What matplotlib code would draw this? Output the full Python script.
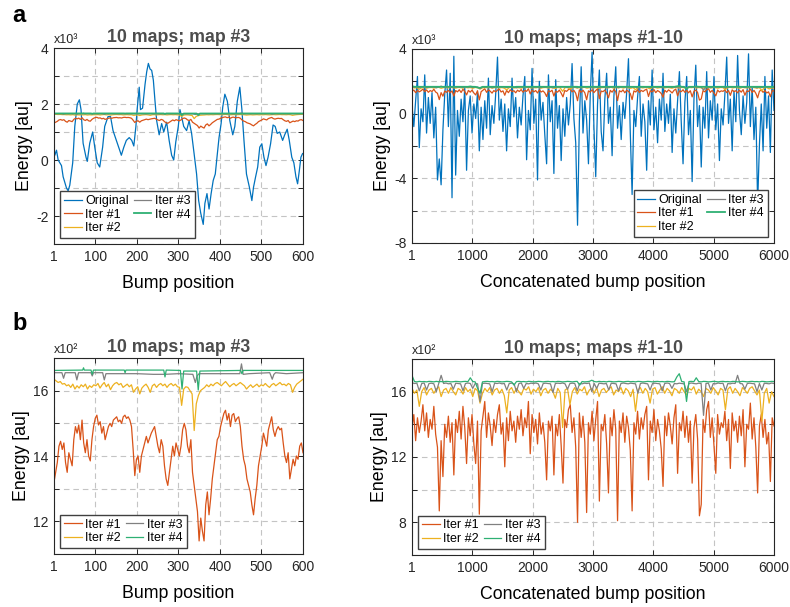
import numpy as np
import matplotlib.pyplot as plt

plt.rcParams['font.family'] = ['Liberation Sans', 'DejaVu Sans']

# ---- colours (MATLAB-like) ----
C_ORIG = "#0072BD"
C_IT1 = "#D95319"
C_IT2 = "#EDB120"
C_IT3 = "#808080"
C_IT4 = "#2EB073"

# ---- map #3 (600 bump positions) ----
# Original energy, x10^3
orig_left_x = [1, 3, 7, 11, 19, 23, 31, 35, 39, 46,
               51, 57, 62, 66, 71, 78, 81, 87, 94, 99,
               105, 111, 118, 123, 131, 137, 143, 151, 159, 163,
               169, 175, 182, 188, 193, 198, 201, 206, 209, 214,
               220, 224, 228, 232, 236, 240, 244, 248, 254, 260,
               265, 272, 278, 284, 289, 294, 300, 304, 308, 313,
               320, 326, 332, 338, 344, 349, 354, 360, 364, 369,
               374, 379, 384, 389, 394, 398, 403, 407, 412, 418,
               424, 431, 436, 442, 448, 453, 458, 464, 471, 477,
               481, 486, 491, 496, 501, 506, 511, 516, 522, 528,
               533, 538, 544, 551, 556, 562, 567, 573, 578, 583,
               587, 591, 595, 599]
orig_left = [0.46, 0.17, 0.35, 0.0, -0.2, -0.6, -1.0, -1.1, -0.9, -0.1,
             1.2, 2.0, 2.15, 1.8, 0.6, 0.1, -0.05, 0.6, 1.0, 0.46,
             -0.1, -0.25, 0.46, 1.2, 1.55, 1.55, 1.05, 0.7, 0.35, 0.17,
             0.46, 0.7, 0.8, 0.7, 0.5, 1.2, 1.8, 2.6, 1.8, 1.85,
             2.7, 3.15, 3.45, 3.25, 3.2, 2.85, 2.1, 1.4, 0.9, 1.3,
             1.0, 1.35, 0.7, 0.17, 0.0, 0.65, 1.2, 1.8, 1.55, 1.2,
             1.05, 1.4, 0.95, 0.23, -0.5, -1.45, -1.9, -2.3, -1.55, -1.2,
             -1.75, -1.2, -0.73, -0.5, 0.23, 0.8, 1.3, 1.9, 2.35, 2.1,
             1.4, 0.9, 1.2, 2.1, 2.6, 1.8, 0.7, -0.5, -0.97, -1.45,
             -0.97, -0.6, -0.25, 0.46, 0.58, 0.1, -0.2, 0.1, 0.58, 1.25,
             1.2, 0.95, 1.0, 0.7, 0.9, 1.1, 0.7, 0.1, -0.1, -0.6,
             -0.85, -0.4, 0.1, 0.23]

# Iterations, x10^2
iter1_left = [13.2, 13.5, 13.8, 14.3, 14.45, 14.2, 14.4, 13.8, 13.5, 14.1,
              13.9, 13.7, 14.5, 14.9, 14.7, 14.95, 14.5, 15.1, 14.4, 14.1,
              14.5, 14.0, 13.85, 14.5, 14.9, 15.15, 15.25, 14.95, 15.05, 14.7,
              14.9, 14.5, 14.7, 14.9, 15.0, 14.9, 15.1, 15.15, 15.2, 15.05,
              15.1, 15.0, 15.2, 15.25, 15.15, 15.2, 15.1, 14.9, 14.2, 13.4,
              13.9, 14.0, 13.5, 14.0, 14.2, 14.4, 14.6, 14.4, 14.55, 14.7,
              14.8, 14.9, 14.6, 14.3, 14.1, 14.5, 14.3, 13.7, 13.3, 13.1,
              13.5, 13.9, 14.3, 14.0, 14.4, 14.2, 14.0, 14.3, 14.8, 15.0,
              14.8, 14.3, 14.1, 14.5, 13.5, 13.1, 12.7, 12.3, 11.4, 12.1,
              11.7, 11.4, 12.5, 12.9, 12.2, 12.7, 13.3, 13.7, 14.1, 14.5,
              14.6, 14.9, 15.1, 15.3, 15.4, 15.1, 15.3, 14.9, 15.25, 15.3,
              15.05, 15.15, 15.2, 14.9, 14.3, 13.9, 13.7, 13.3, 13.1, 12.9,
              12.5, 12.2, 12.7, 13.1, 13.7, 14.0, 14.3, 14.7, 14.5, 14.3,
              14.8, 15.0, 15.2, 14.8, 14.6, 14.8, 14.9, 14.8, 14.85, 14.4,
              14.0, 13.8, 14.1, 13.3, 13.6, 13.9, 13.7, 14.0, 13.9, 14.3,
              14.4, 14.1]
iter2_left = [16.35, 16.30, 16.25, 16.28, 16.20, 16.22, 16.15, 16.18, 16.10, 16.20,
              16.05, 16.15, 16.08, 16.18, 16.12, 16.20, 16.05, 16.15, 16.10, 16.18,
              16.15, 16.22, 16.08, 16.18, 16.25, 16.12, 16.20, 16.03, 16.15, 16.22,
              16.25, 16.18, 16.22, 16.10, 16.15, 16.20, 16.12, 16.18, 15.95, 16.05,
              16.12, 15.90, 16.08, 16.15, 16.20, 16.10, 15.95, 16.15, 16.20, 16.10,
              16.18, 16.22, 16.15, 16.20, 16.10, 16.18, 16.22, 16.15, 16.20, 16.12,
              16.10, 15.55, 16.05, 16.12, 16.10, 16.00, 15.90, 14.78, 15.60, 15.85,
              16.00, 16.05, 16.10, 16.18, 16.12, 16.20, 16.15, 16.22, 16.25, 16.20,
              16.15, 16.22, 16.28, 16.20, 16.12, 16.18, 16.22, 16.15, 16.20, 16.25,
              16.20, 16.15, 16.05, 16.12, 16.18, 16.10, 16.15, 16.20, 16.12, 16.18,
              16.15, 16.22, 16.15, 16.10, 16.18, 16.22, 16.15, 16.20, 16.25, 16.18,
              16.20, 16.15, 16.22, 16.18, 15.95, 16.10, 16.20, 16.25, 16.30, 16.35]
iter3_left_x = [1, 20, 24, 28, 52, 56, 60, 90, 93, 96, 118, 122, 126, 200, 240, 268,
                300, 335, 341, 345, 350, 400, 448, 452, 456, 470, 520, 526, 530, 534,
                560, 600]
iter3_left = [16.55, 16.55, 16.38, 16.55, 16.55, 16.33, 16.55, 16.55, 16.45, 16.55,
              16.55, 16.33, 16.52, 16.52, 16.50, 16.50, 16.52, 16.50, 16.25, 16.45,
              16.52, 16.52, 16.52, 16.82, 16.50, 16.52, 16.55, 16.35, 16.50, 16.55,
              16.52, 16.55]
iter4_left_x = [1, 70, 72, 74, 90, 93, 96, 170, 172, 174, 265, 268, 271, 305, 309, 313,
                344, 348, 352, 450, 453, 456, 600]
iter4_left = [16.62, 16.63, 16.70, 16.63, 16.63, 16.50, 16.63, 16.63, 16.55, 16.63,
              16.63, 16.42, 16.63, 16.62, 16.05, 16.60, 16.60, 16.02, 16.60, 16.62,
              16.52, 16.62, 16.62]

# ---- maps #1-10 (6000 concatenated positions) ----
orig_right = [0.5, -0.8, 0.8, 2.3, -2.1, 0.3, -0.5, 2.4, -1.2, 1.0,
              -0.6, 1.3, -1.5, 0.4, -4.1, -2.8, -4.4, -1.0, 1.2, 2.7,
              -0.8, 2.5, -5.2, 3.55, -3.8, 0.2, -1.4, 0.9, -0.5, 1.65,
              -3.5, 0.2, 1.1, -1.2, 0.6, -0.3, 1.3, -2.3, 0.4, -1.6,
              0.8, -0.9, 2.2, -1.3, 0.5, -0.6, 1.2, 3.5, -0.4, 0.9,
              -1.1, 0.6, -2.3, 0.3, -0.8, 2.2, -0.2, 1.0, -1.5, 0.4,
              -0.7, 1.1, 2.3, -2.85, 0.2, -1.0, 2.8, -0.6, 0.9, -4.1,
              2.0, -0.4, 0.7, -1.3, -3.1, 2.4, -0.5, 0.8, -3.7, 2.1,
              -0.9, 0.5, -2.9, 0.3, -1.4, 1.0, -0.7, 0.6, 3.1, -0.3,
              -1.8, -6.9, -0.5, 2.9, -1.2, 0.8, -0.4, -3.1, 1.2, 3.8,
              -0.8, -3.9, 0.6, 2.7, -1.1, -2.3, 0.9, 2.5, -0.6, 0.4,
              -2.6, 1.1, 2.9, -0.9, 0.5, -1.6, 0.7, -0.3, 1.3, 3.4,
              -1.2, -5.0, 0.2, -0.8, 1.0, 2.3, -1.4, 0.6, -0.5, -3.5,
              0.8, -0.7, 2.7, -1.0, 0.4, -1.8, 0.9, -0.4, 2.5, -1.1,
              0.6, -0.6, 1.2, -2.4, 0.3, -1.2, 0.8, 2.6, -0.5, -3.1,
              0.7, 2.3, -1.3, 0.2, -4.2, 0.9, 3.0, -0.8, 0.5, -3.3,
              0.4, -0.9, 2.6, -1.5, 0.8, -0.4, 2.3, -1.0, 0.6, -2.9,
              0.3, -0.7, 1.2, 3.5, -0.6, 0.9, -2.3, 1.4, -0.5, 3.6,
              0.2, -1.3, 1.1, -0.6, 0.7, 3.7, -0.8, 1.65, -1.6, 0.4,
              -5.6, -1.9, 0.6, -2.3, 2.3, -0.9, 1.1, -2.4, 2.7, 0.2]
iter1_right = [13.8, 14.6, 13.0, 14.4, 13.5, 14.2, 15.2, 13.6, 14.7, 13.2,
               14.3, 13.7, 15.1, 13.4, 12.6, 8.7, 13.0, 10.8, 14.0, 13.2,
               14.5, 12.9, 14.1, 10.9, 14.3, 13.5, 14.8, 13.1, 15.1, 13.8,
               11.6, 14.4, 13.3, 14.6, 12.8, 11.6, 14.2, 8.5, 13.6, 14.5,
               15.4, 13.2, 14.7, 13.9, 12.7, 14.3, 13.5, 14.6, 15.2, 13.4,
               14.1, 11.4, 14.4, 13.0, 14.8, 13.6, 14.2, 12.9, 14.5, 13.7,
               14.9, 13.3, 14.4, 13.8, 15.4, 12.2, 14.6, 13.5, 14.3, 12.8,
               14.7, 13.4, 14.1, 12.9, 10.6, 14.2, 13.6, 14.5, 10.9, 14.0,
               13.3, 14.6, 12.7, 10.4, 14.3, 13.8, 14.9, 15.2, 13.5, 14.4,
               12.6, 8.0, 14.7, 13.2, 14.5, 12.9, 8.6, 14.1, 13.4, 14.8,
               13.0, 14.3, 15.4, 9.3, 14.0, 13.6, 14.6, 12.8, 9.8, 14.4,
               13.3, 14.9, 13.7, 8.1, 14.2, 13.5, 14.7, 12.9, 14.5, 13.8,
               12.4, 8.7, 14.1, 13.4, 14.8, 13.1, 14.4, 13.7, 14.6, 15.1,
               10.6, 14.2, 13.5, 14.9, 13.0, 14.3, 13.6, 12.5, 10.2, 14.5,
               13.3, 14.7, 13.9, 12.8, 14.4, 15.2, 11.0, 14.1, 13.6, 14.8,
               13.2, 14.5, 12.9, 14.2, 10.4, 13.8, 14.6, 13.1, 8.4, 9.1,
               14.3, 13.5, 14.9, 15.4, 13.2, 14.4, 12.7, 11.0, 14.6, 13.4,
               14.1, 13.8, 14.8, 13.0, 14.3, 11.3, 14.7, 13.6, 14.2, 12.9,
               14.5, 13.3, 14.9, 11.4, 14.0, 13.7, 15.3, 13.1, 14.4, 12.6,
               9.8, 13.9, 14.6, 13.2, 14.3, 12.8, 13.5, 10.5, 14.4, 13.9]
iter2_right = [16.2, 15.9, 16.1, 15.1, 16.0, 16.25, 15.8, 16.1, 16.2, 15.9,
               16.15, 16.3, 15.7, 16.1, 16.2, 15.9, 16.25, 16.0, 15.8, 16.2,
               16.1, 15.85, 16.25, 16.0, 16.15, 15.7, 16.2, 16.05, 15.3, 15.9,
               16.2, 16.0, 16.25, 15.8, 16.1, 16.2, 15.9, 16.15, 15.75, 14.7,
               16.1, 16.25, 15.9, 16.2, 16.0, 15.8, 16.2, 16.1, 16.3, 15.85,
               16.15, 16.0, 16.25, 15.75, 16.1, 16.2, 15.9, 16.15, 16.0, 15.6,
               16.2, 15.95, 13.8, 16.1, 16.2, 15.2, 16.0, 16.25, 15.85, 16.15,
               16.05, 16.3, 15.8, 16.1, 16.2, 15.9, 16.25, 15.7, 16.1, 16.2,
               15.95, 16.15, 16.3, 15.8, 16.1, 16.0, 16.25, 15.85, 16.2, 16.05,
               15.7, 16.15, 14.8, 16.1, 16.25, 15.9, 16.2, 16.0, 15.3, 16.15,
               16.25, 15.85, 16.1, 16.3, 15.9, 16.2, 16.05, 15.75, 16.2, 16.1,
               15.9, 16.25, 16.0, 15.8, 16.2, 16.1, 16.3, 15.85, 16.15, 16.0,
               15.7, 16.2, 16.1, 15.9, 16.25, 16.05, 15.8, 16.2, 16.1, 14.9,
               16.15, 16.3, 15.9, 16.2, 16.0, 15.75, 16.25, 16.1, 15.9, 16.2,
               16.3, 16.05, 15.8, 16.1, 14.2, 15.9, 16.2, 15.3, 16.0, 15.7]
iter3_right = [16.55, 16.5, 16.52, 16.05, 16.5, 16.53, 16.1, 16.5, 16.52, 16.48,
               16.0, 16.5, 17.0, 16.5, 16.53, 16.48, 16.5, 16.15, 16.52, 16.5,
               16.48, 16.05, 16.5, 16.53, 16.5, 16.2, 16.5, 16.48, 15.4, 16.5,
               16.52, 16.5, 16.48, 16.0, 16.52, 16.5, 16.53, 16.48, 16.5, 16.1,
               16.5, 16.52, 16.48, 16.0, 16.5, 16.53, 16.2, 16.5, 16.48, 16.52,
               16.5, 16.53, 16.48, 16.1, 16.5, 16.52, 16.5, 16.48, 15.95, 16.5,
               16.52, 16.5, 16.53, 16.48, 16.15, 16.5, 16.52, 16.5, 16.05, 16.5,
               16.48, 16.52, 16.5, 16.53, 16.0, 16.5, 16.2, 16.52, 16.5, 16.48,
               16.5, 16.1, 16.52, 16.5, 16.48, 16.05, 16.5, 16.53, 16.5, 16.48,
               16.52, 16.5, 16.48, 15.9, 16.5, 16.53, 16.5, 16.48, 16.1, 16.5,
               16.52, 16.5, 16.48, 16.05, 16.5, 16.53, 16.5, 16.2, 16.5, 16.48,
               16.52, 16.5, 16.48, 16.0, 16.5, 16.53, 16.5, 16.48, 16.52, 16.5,
               14.55, 16.5, 16.52, 16.1, 16.5, 16.48, 16.53, 16.5, 16.52, 16.05,
               16.5, 16.48, 16.52, 16.5, 17.0, 16.5, 16.48, 16.15, 16.5, 16.52,
               16.5, 16.48, 16.0, 16.5, 16.1, 16.52, 16.5, 16.48, 16.53, 16.5]
iter4_right = [17.0, 16.62, 16.6, 16.63, 16.61, 16.62, 16.6, 16.63, 16.62, 16.6,
               16.63, 16.61, 16.62, 16.6, 16.63, 16.62, 16.6, 16.61, 16.63, 16.62,
               16.6, 16.62, 16.63, 16.61, 16.85, 16.62, 16.6, 16.2, 15.9, 16.6,
               16.62, 16.63, 16.61, 16.62, 16.6, 16.63, 16.62, 16.6, 16.61, 16.63,
               16.62, 16.6, 16.4, 16.62, 16.63, 16.61, 16.62, 16.6, 16.63, 16.62,
               16.6, 16.61, 16.63, 16.62, 16.6, 16.62, 16.63, 16.61, 16.62, 16.6,
               16.63, 16.62, 16.6, 16.61, 16.63, 16.62, 16.6, 16.62, 16.63, 16.4,
               16.62, 16.6, 16.61, 16.63, 16.7, 16.62, 16.6, 16.63, 16.61, 16.62,
               16.6, 16.63, 16.62, 16.6, 16.61, 16.63, 16.62, 16.6, 16.62, 16.63,
               16.61, 16.62, 16.6, 16.63, 16.62, 16.6, 16.61, 16.63, 16.62, 16.6,
               16.62, 16.63, 16.61, 16.62, 16.6, 16.63, 16.62, 16.6, 16.61, 16.9,
               17.1, 16.62, 16.6, 15.4, 16.62, 16.63, 16.61, 16.85, 16.62, 16.6,
               16.63, 16.62, 16.6, 16.61, 16.63, 16.62, 16.6, 16.62, 16.63, 16.61,
               16.62, 16.6, 16.63, 16.62, 16.6, 16.61, 16.63, 16.62, 16.6, 16.62,
               16.63, 16.61, 16.62, 16.6, 16.63, 16.62, 16.6, 16.61, 16.63, 16.62]

xl_i1 = np.linspace(1, 600, len(iter1_left))
xl_i2 = np.linspace(1, 600, len(iter2_left))
xr_o = np.linspace(1, 6000, len(orig_right))
xr_i1 = np.linspace(1, 6000, len(iter1_right))
xr_i2 = np.linspace(1, 6000, len(iter2_right))
xr_i3 = np.linspace(1, 6000, len(iter3_right))
xr_i4 = np.linspace(1, 6000, len(iter4_right))

LW = 0.9
GRID_KW = dict(color="#c4c4c4", linestyle=(0, (5, 3.5)), linewidth=0.8)


def style_axes(ax, xlim, xticks, ylim, ygrid, ylabels, expo, title, xlabel):
    ax.set_xlim(*xlim)
    ax.set_ylim(*ylim)
    ax.set_xticks(xticks)
    ax.set_xticklabels([str(t) for t in xticks])
    ax.set_yticks(ygrid)
    ax.set_yticklabels([str(v) if v in ylabels else "" for v in ygrid])
    ax.grid(True, **GRID_KW)
    ax.set_axisbelow(True)
    ax.tick_params(direction="in", length=3.5, width=0.7, top=True, right=True,
                   labelsize=10, colors="#262626", pad=4)
    for s in ax.spines.values():
        s.set_color("#262626")
        s.set_linewidth(0.8)
    ax.set_title(title, fontsize=12.8, fontweight="bold", color="#4d4d4d", pad=4)
    ax.set_xlabel(xlabel, fontsize=12.8, labelpad=8)
    ax.set_ylabel("Energy [au]", fontsize=12.8, labelpad=2)
    ax.text(0.0, 1.012, expo, transform=ax.transAxes, fontsize=9,
            ha="left", va="bottom", color="#262626")


fig = plt.figure(figsize=(7.9, 6.07), dpi=100)
W, H = 790, 607


def add_ax(x0, x1, y0, y1):
    return fig.add_axes([x0 / W, 1 - y1 / H, (x1 - x0) / W, (y1 - y0) / H])


leg_kw = dict(fontsize=9, frameon=True, fancybox=False, framealpha=1,
              edgecolor="#404040", handlelength=1.4, handletextpad=0.3,
              labelspacing=0.12, columnspacing=0.4, borderpad=0.3, borderaxespad=0.5)

# a - map #3
ax = add_ax(54, 303, 48, 244)
h0, = ax.plot(orig_left_x, orig_left, color=C_ORIG, lw=LW, label="Original")
h1, = ax.plot(xl_i1, np.array(iter1_left) / 10, color=C_IT1, lw=LW, label="Iter #1")
h2, = ax.plot(xl_i2, np.array(iter2_left) / 10, color=C_IT2, lw=LW, label="Iter #2")
h3, = ax.plot(iter3_left_x, np.array(iter3_left) / 10, color=C_IT3, lw=LW, label="Iter #3")
h4, = ax.plot(iter4_left_x, np.array(iter4_left) / 10, color=C_IT4, lw=1.3, label="Iter #4")
style_axes(ax, (1, 600), [1, 100, 200, 300, 400, 500, 600], (-3, 4),
           [-3, -2, -1, 0, 1, 2, 3, 4], [-2, 0, 2, 4], "x10³",
           "10 maps; map #3", "Bump position")
ax.legend(handles=[h0, h1, h2, h3, h4], ncol=2, loc="lower left", **leg_kw)

# a - maps #1-10
ax = add_ax(412, 774, 49, 243)
h0, = ax.plot(xr_o, orig_right, color=C_ORIG, lw=LW, label="Original")
h1, = ax.plot(xr_i1, np.array(iter1_right) / 10, color=C_IT1, lw=LW, label="Iter #1")
h2, = ax.plot(xr_i2, np.array(iter2_right) / 10, color=C_IT2, lw=LW, label="Iter #2")
h3, = ax.plot(xr_i3, np.array(iter3_right) / 10, color=C_IT3, lw=LW, label="Iter #3")
h4, = ax.plot(xr_i4, np.array(iter4_right) / 10, color=C_IT4, lw=1.3, label="Iter #4")
style_axes(ax, (1, 6000), [1, 1000, 2000, 3000, 4000, 5000, 6000], (-8, 4),
           [-8, -6, -4, -2, 0, 2, 4], [-8, -4, 0, 4], "x10³",
           "10 maps; maps #1-10", "Concatenated bump position")
ax.legend(handles=[h0, h1, h2, h3, h4], ncol=2, loc="lower right", **leg_kw)

# b - map #3
ax = add_ax(54, 303, 358, 554)
h1, = ax.plot(xl_i1, iter1_left, color=C_IT1, lw=LW, label="Iter #1")
h2, = ax.plot(xl_i2, iter2_left, color=C_IT2, lw=LW, label="Iter #2")
h3, = ax.plot(iter3_left_x, iter3_left, color=C_IT3, lw=LW, label="Iter #3")
h4, = ax.plot(iter4_left_x, iter4_left, color=C_IT4, lw=LW, label="Iter #4")
style_axes(ax, (1, 600), [1, 100, 200, 300, 400, 500, 600], (11, 17),
           [11, 12, 13, 14, 15, 16, 17], [12, 14, 16], "x10²",
           "10 maps; map #3", "Bump position")
ax.legend(handles=[h1, h2, h3, h4], ncol=2, loc="lower left", **leg_kw)

# b - maps #1-10
ax = add_ax(412, 774, 359, 555)
h1, = ax.plot(xr_i1, iter1_right, color=C_IT1, lw=LW, label="Iter #1")
h2, = ax.plot(xr_i2, iter2_right, color=C_IT2, lw=LW, label="Iter #2")
h3, = ax.plot(xr_i3, iter3_right, color=C_IT3, lw=LW, label="Iter #3")
h4, = ax.plot(xr_i4, iter4_right, color=C_IT4, lw=LW, label="Iter #4")
style_axes(ax, (1, 6000), [1, 1000, 2000, 3000, 4000, 5000, 6000], (6, 18),
           [6, 8, 10, 12, 14, 16, 18], [8, 12, 16], "x10²",
           "10 maps; maps #1-10", "Concatenated bump position")
ax.legend(handles=[h1, h2, h3, h4], ncol=2, loc="lower left", **leg_kw)

fig.text(12 / W, 1 - 16 / H, "a", fontsize=17, fontweight="bold", va="center")
fig.text(12 / W, 1 - 323 / H, "b", fontsize=17, fontweight="bold", va="center")

fig.savefig("out.png", dpi=100)
